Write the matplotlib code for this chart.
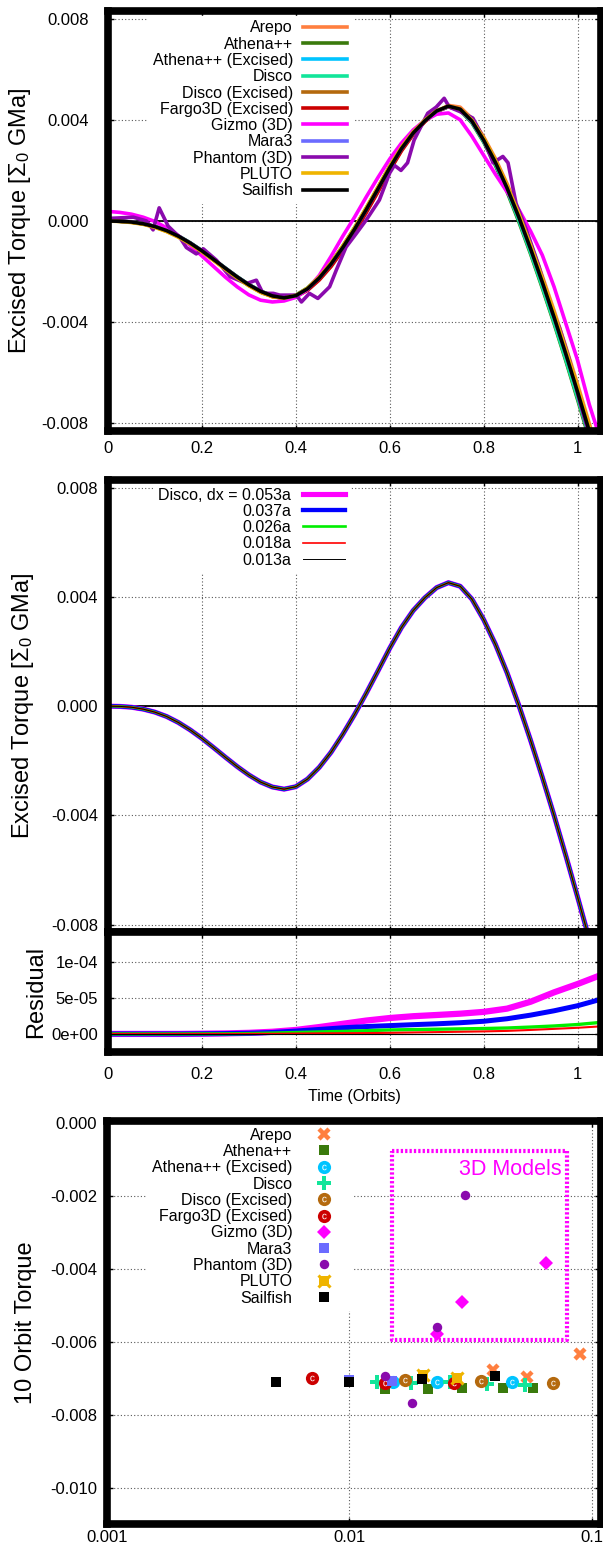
import matplotlib
matplotlib.use("Agg")
import matplotlib.pyplot as plt
from matplotlib import ticker

plt.rcParams['font.family'] = ['Liberation Sans', 'DejaVu Sans']
plt.rcParams['mathtext.fontset'] = 'custom'
plt.rcParams['mathtext.rm'] = 'Liberation Sans'
plt.rcParams['mathtext.it'] = 'Liberation Sans:italic'
plt.rcParams['mathtext.bf'] = 'Liberation Sans:bold'

# ---- panel 1: excised torque for each code (units of 1e-3) ----
time = [0.000, 0.025, 0.050, 0.075, 0.100, 0.125, 0.150, 0.175, 0.200, 0.225,
        0.250, 0.275, 0.300, 0.325, 0.350, 0.375, 0.400, 0.425, 0.450, 0.475,
        0.500, 0.525, 0.550, 0.575, 0.600, 0.625, 0.650, 0.675, 0.700, 0.725,
        0.750, 0.775, 0.800, 0.825, 0.850, 0.875, 0.900, 0.925, 0.950, 0.975,
        1.000, 1.025, 1.050]

arepo = [0.00, -0.01, -0.05, -0.12, -0.24, -0.41, -0.63, -0.90, -1.21, -1.55,
         -1.90, -2.24, -2.55, -2.81, -2.99, -3.05, -2.97, -2.72, -2.31, -1.78,
         -1.14, -0.43, 0.35, 1.17, 2.01, 2.79, 3.43, 3.93, 4.33, 4.57,
         4.50, 4.05, 3.33, 2.47, 1.47, 0.35, -0.88, -2.18, -3.54, -4.97,
         -6.45, -8.00, -9.55]
athena = [0.00, -0.01, -0.04, -0.10, -0.21, -0.37, -0.59, -0.86, -1.17, -1.51,
          -1.86, -2.20, -2.51, -2.77, -2.95, -3.03, -2.93, -2.65, -2.21, -1.65,
          -0.99, -0.27, 0.51, 1.33, 2.16, 2.91, 3.51, 3.98, 4.35, 4.52,
          4.37, 3.88, 3.12, 2.20, 1.15, -0.03, -1.30, -2.65, -4.05, -5.52,
          -7.05, -8.62, -10.2]
athena_exc = [0.00, -0.01, -0.04, -0.11, -0.22, -0.39, -0.61, -0.88, -1.19, -1.53,
              -1.88, -2.22, -2.53, -2.79, -2.97, -3.04, -2.94, -2.66, -2.23, -1.68,
              -1.02, -0.30, 0.48, 1.30, 2.13, 2.88, 3.49, 3.97, 4.34, 4.52,
              4.39, 3.92, 3.17, 2.28, 1.25, 0.08, -1.18, -2.51, -3.90, -5.36,
              -6.87, -8.42, -9.97]
disco = [0.00, -0.01, -0.04, -0.11, -0.22, -0.38, -0.60, -0.87, -1.18, -1.52,
         -1.87, -2.21, -2.52, -2.78, -2.96, -3.04, -2.95, -2.67, -2.24, -1.69,
         -1.03, -0.31, 0.47, 1.29, 2.12, 2.88, 3.50, 3.97, 4.34, 4.52,
         4.39, 3.92, 3.17, 2.27, 1.22, 0.03, -1.25, -2.60, -4.00, -5.47,
         -6.98, -8.53, -10.1]
disco_exc = [0.00, -0.01, -0.05, -0.11, -0.23, -0.40, -0.62, -0.89, -1.20, -1.54,
             -1.89, -2.23, -2.54, -2.80, -2.98, -3.05, -2.97, -2.70, -2.28, -1.74,
             -1.09, -0.38, 0.40, 1.22, 2.06, 2.83, 3.46, 3.95, 4.33, 4.53,
             4.43, 3.99, 3.27, 2.40, 1.39, 0.25, -0.99, -2.30, -3.67, -5.11,
             -6.60, -8.14, -9.70]
fargo = [0.00, -0.01, -0.04, -0.11, -0.23, -0.39, -0.61, -0.88, -1.19, -1.53,
         -1.88, -2.22, -2.54, -2.80, -2.98, -3.06, -2.99, -2.74, -2.33, -1.80,
         -1.16, -0.45, 0.33, 1.15, 1.99, 2.77, 3.42, 3.93, 4.32, 4.52,
         4.41, 3.96, 3.23, 2.35, 1.34, 0.20, -1.04, -2.36, -3.74, -5.19,
         -6.69, -8.24, -9.80]
gizmo = [0.38, 0.34, 0.27, 0.15, -0.02, -0.27, -0.58, -0.96, -1.38, -1.80,
         -2.22, -2.60, -2.92, -3.13, -3.20, -3.16, -3.02, -2.70, -2.15, -1.40,
         -0.60, 0.15, 0.95, 1.72, 2.45, 3.08, 3.60, 3.98, 4.22, 4.27,
         4.00, 3.35, 2.60, 1.85, 1.15, 0.45, -0.40, -1.35, -2.60, -4.05,
         -5.50, -7.25, -8.70]
mara3 = [0.00, -0.01, -0.04, -0.11, -0.22, -0.38, -0.60, -0.87, -1.18, -1.52,
         -1.87, -2.21, -2.52, -2.78, -2.96, -3.04, -2.95, -2.68, -2.25, -1.70,
         -1.05, -0.33, 0.45, 1.27, 2.10, 2.86, 3.48, 3.96, 4.34, 4.52,
         4.40, 3.94, 3.21, 2.33, 1.31, 0.16, -1.09, -2.41, -3.79, -5.24,
         -6.74, -8.29, -9.84]
pluto = [0.00, -0.02, -0.06, -0.13, -0.25, -0.42, -0.64, -0.91, -1.22, -1.56,
         -1.91, -2.25, -2.56, -2.82, -2.99, -3.05, -2.94, -2.65, -2.21, -1.65,
         -0.99, -0.27, 0.52, 1.34, 2.17, 2.92, 3.52, 3.99, 4.36, 4.54,
         4.43, 3.99, 3.28, 2.41, 1.41, 0.28, -0.96, -2.27, -3.64, -5.08,
         -6.57, -8.11, -9.67]
sailfish = [0.00, -0.01, -0.04, -0.11, -0.22, -0.38, -0.60, -0.87, -1.18, -1.52,
            -1.87, -2.21, -2.52, -2.78, -2.96, -3.04, -2.95, -2.68, -2.25, -1.70,
            -1.05, -0.33, 0.45, 1.27, 2.10, 2.86, 3.48, 3.96, 4.35, 4.54,
            4.42, 3.95, 3.20, 2.32, 1.30, 0.15, -1.10, -2.42, -3.80, -5.25,
            -6.75, -8.30, -9.85]

phantom_time = [0.0, 0.054, 0.082, 0.096, 0.109, 0.128, 0.153, 0.167, 0.188, 0.203,
                0.231, 0.260, 0.295, 0.316, 0.330, 0.352, 0.366, 0.401, 0.412, 0.429,
                0.447, 0.472, 0.486, 0.507, 0.529, 0.550, 0.578, 0.600, 0.610, 0.624,
                0.638, 0.652, 0.681, 0.699, 0.716, 0.727, 0.749, 0.777, 0.799, 0.820,
                0.841, 0.852, 0.869, 0.891, 0.918, 0.947, 0.961, 0.983, 1.004, 1.018,
                1.040]
phantom = [0.10, 0.15, 0.00, -0.35, 0.52, -0.20, -0.65, -1.05, -1.30, -1.10,
           -1.55, -2.20, -2.47, -2.34, -2.86, -2.86, -2.93, -2.93, -3.20, -2.86,
           -3.06, -2.60, -1.95, -1.03, -0.49, 0.04, 0.83, 1.90, 2.20, 2.00,
           2.30, 3.20, 4.26, 4.50, 4.85, 4.50, 4.33, 4.07, 3.30, 2.30,
           2.55, 2.30, 0.70, -0.35, -1.80, -3.65, -4.18, -5.50, -7.10, -8.00,
           -9.50]

code_names = ['Arepo', 'Athena++', 'Athena++ (Excised)', 'Disco', 'Disco (Excised)',
              'Fargo3D (Excised)', 'Gizmo (3D)', 'Mara3', 'Phantom (3D)', 'PLUTO', 'Sailfish']
code_colors = ['#ff7f3f', '#3a7a0c', '#00c4ff', '#12e59a', '#b4690e',
               '#cc0000', '#ff00ff', '#6b6bff', '#8a0aad', '#efb400', '#000000']

# ---- panel 2: Disco resolution study ----
res_labels = ['Disco, dx = 0.053a', '0.037a', '0.026a', '0.018a', '0.013a']
res_colors = ['#ff00ff', '#0000ff', '#00ee00', '#ff0000', '#000000']
res_widths = [3.7, 3.1, 1.9, 1.2, 0.7]

res_time = [0.00, 0.05, 0.10, 0.15, 0.20, 0.25, 0.30, 0.35, 0.40, 0.45, 0.50,
            0.55, 0.60, 0.65, 0.70, 0.75, 0.80, 0.85, 0.90, 0.95, 1.00, 1.05]
resid_053 = [0, 0, 0, 0, 0.03, 0.07, 0.15, 0.30, 0.55, 0.95, 1.40,
             1.85, 2.20, 2.45, 2.62, 2.80, 3.05, 3.50, 4.45, 5.75, 6.90, 8.15]
resid_037 = [0, 0, 0, 0, 0.02, 0.05, 0.10, 0.20, 0.40, 0.62, 0.85,
             1.02, 1.15, 1.28, 1.40, 1.55, 1.75, 2.10, 2.60, 3.20, 3.90, 4.80]
resid_026 = [0, 0, 0, 0, 0.01, 0.02, 0.05, 0.12, 0.20, 0.28, 0.35,
             0.45, 0.55, 0.60, 0.65, 0.70, 0.75, 0.82, 0.95, 1.10, 1.30, 1.60]
resid_018 = [0, 0, 0, 0, 0, 0, 0.01, 0.02, 0.05, 0.08, 0.10,
             0.12, 0.15, 0.20, 0.25, 0.30, 0.35, 0.42, 0.55, 0.70, 0.85, 1.05]
resid_013 = [0] * 22
residuals = [resid_053, resid_037, resid_026, resid_018, resid_013]

# ---- panel 3: 10-orbit torque vs resolution ----
dx_arepo = [0.039, 0.054, 0.0895]
tq_arepo = [-0.00678, -0.00696, -0.00634]
dx_athena = [0.0140, 0.0212, 0.0291, 0.0429, 0.0571]
tq_athena = [-0.00730, -0.00730, -0.00728, -0.00728, -0.00726]
dx_athena_exc = [0.0152, 0.0231, 0.0470]
tq_athena_exc = [-0.00711, -0.00712, -0.00711]
dx_disco = [0.013, 0.018, 0.026, 0.037, 0.053]
tq_disco = [-0.00711, -0.00714, -0.00710, -0.00717, -0.00719]
dx_disco_exc = [0.0170, 0.0349, 0.0690]
tq_disco_exc = [-0.00705, -0.00708, -0.00714]
dx_fargo = [0.0070, 0.0140, 0.0269]
tq_fargo = [-0.00700, -0.00714, -0.00714]
dx_gizmo = [0.0231, 0.0291, 0.0648]
tq_gizmo = [-0.00579, -0.00491, -0.00383]
dx_mara3 = [0.0100, 0.0150]
tq_mara3 = [-0.00704, -0.00707]
dx_phantom = [0.0140, 0.0181, 0.0231, 0.0300]
tq_phantom = [-0.00694, -0.00767, -0.00559, -0.00199]
dx_pluto = [0.0201, 0.0279]
tq_pluto = [-0.00691, -0.00699]
dx_sailfish = [0.005, 0.010, 0.020, 0.040]
tq_sailfish = [-0.00710, -0.00710, -0.00703, -0.00693]

box_x = [0.015, 0.0794, 0.0794, 0.015, 0.015]
box_y = [-0.00078, -0.00078, -0.00596, -0.00596, -0.00078]

# ---------------------------------------------------------------
W, H = 603, 1549
fig = plt.figure(figsize=(W / 100, H / 100), dpi=100)


def add_axes(left, right, top, bottom):
    return fig.add_axes([left / W, 1 - bottom / H, (right - left) / W, (bottom - top) / H])


def style(ax, ypad, xpad):
    for s in ax.spines.values():
        s.set_linewidth(5.5)
    ax.grid(True, color='0.35', linestyle=(0, (1, 2)), linewidth=0.8)
    ax.tick_params(direction='in', length=4, width=1, top=True, right=True,
                   labelsize=12)
    ax.tick_params(axis='y', pad=ypad)
    ax.tick_params(axis='x', pad=xpad)


def white_legend(ax, anchor, **kw):
    leg = ax.legend(loc='upper right', bbox_to_anchor=anchor, markerfirst=False,
                    fontsize=11.5, labelspacing=0.08, borderpad=0.3, borderaxespad=0,
                    frameon=True, fancybox=False, edgecolor='white',
                    facecolor='white', framealpha=1, **kw)
    leg.set_zorder(2.4)
    return leg


ylab = r'Excised Torque [$\Sigma_0$ GMa]'

# panel 1
ax1 = add_axes(108, 601, 11, 431)
for name, col, vals in zip(code_names, code_colors,
                           [arepo, athena, athena_exc, disco, disco_exc, fargo,
                            gizmo, mara3, None, pluto, sailfish]):
    if vals is None:
        ax1.plot(phantom_time, [v * 1e-3 for v in phantom], color=col, lw=2.6, label=name)
    else:
        ax1.plot(time, [v * 1e-3 for v in vals], color=col, lw=2.6, label=name)
ax1.axhline(0, color='k', lw=1.3, zorder=1.8)
ax1.set_xlim(0, 1.05)
ax1.set_ylim(-0.0083, 0.0083)
ax1.set_xticks([0, 0.2, 0.4, 0.6, 0.8, 1.0])
ax1.set_yticks([-0.008, -0.004, 0, 0.004, 0.008])
ax1.xaxis.set_major_formatter(ticker.FuncFormatter(lambda v, p: f'{v:g}'))
ax1.yaxis.set_major_formatter(ticker.FormatStrFormatter('%.3f'))
style(ax1, 14, 7.5)
ax1.set_ylabel(ylab, fontsize=17)
ax1.yaxis.set_label_coords(-0.152, 0.5)
white_legend(ax1, (0.494, 0.989), handlelength=2.75, handletextpad=0.62)

# panel 2
ax2 = add_axes(108, 601, 480, 932)
for lbl, col, lw in zip(res_labels, res_colors, res_widths):
    ax2.plot(time, [v * 1e-3 for v in disco], color=col, lw=lw, label=lbl)
ax2.axhline(0, color='k', lw=1.3, zorder=1.8)
ax2.set_xlim(0, 1.05)
ax2.set_ylim(-0.00827, 0.00828)
ax2.set_xticks([0, 0.2, 0.4, 0.6, 0.8, 1.0])
ax2.set_yticks([-0.008, -0.004, 0, 0.004, 0.008])
ax2.yaxis.set_major_formatter(ticker.FormatStrFormatter('%.3f'))
ax2.tick_params(labelbottom=False)
style(ax2, 7, 7)
ax2.set_ylabel(ylab, fontsize=17)
ax2.yaxis.set_label_coords(-0.146, 0.5)
white_legend(ax2, (0.49, 0.994), handlelength=2.6, handletextpad=0.75)

# residual
ax3 = add_axes(108, 601, 932, 1052)
for res, col, lw in zip(residuals, res_colors, [4.5, 3.6, 2.4, 1.5, 0.8]):
    ax3.plot(res_time, [v * 1e-5 for v in res], color=col, lw=lw)
ax3.set_xlim(0, 1.05)
ax3.set_ylim(-2.5e-5, 1.41e-4)
ax3.set_xticks([0, 0.2, 0.4, 0.6, 0.8, 1.0])
ax3.set_yticks([0, 5e-5, 1e-4])
ax3.xaxis.set_major_formatter(ticker.FuncFormatter(lambda v, p: f'{v:g}'))
ax3.yaxis.set_major_formatter(ticker.FormatStrFormatter('%.0e'))
style(ax3, 7, 10.8)
ax3.set_ylabel('Residual', fontsize=17)
ax3.yaxis.set_label_coords(-0.124, 0.5)
ax3.set_xlabel('Time (Orbits)', fontsize=11.5)
ax3.xaxis.set_label_coords(0.5, -0.31)

# panel 3
ax4 = add_axes(107, 601, 1121, 1524)
ax4.set_xscale('log')
c_mark = dict(marker='$\\mathrm{c}$', color='white', ms=4, ls='none', mew=0)
handles = []
handles.append(ax4.plot(dx_arepo, tq_arepo, 'x', color=code_colors[0], ms=7, mew=3.2)[0])
handles.append(ax4.plot(dx_athena, tq_athena, 's', color=code_colors[1], ms=7.3, mew=0)[0])
h1 = ax4.plot(dx_athena_exc, tq_athena_exc, 'o', color=code_colors[2], ms=9.5, mew=0)[0]
h2 = ax4.plot(dx_athena_exc, tq_athena_exc, **c_mark)[0]
handles.append((h1, h2))
handles.append(ax4.plot(dx_disco, tq_disco, 'P', color=code_colors[3], ms=10.5, mew=0)[0])
h1 = ax4.plot(dx_disco_exc, tq_disco_exc, 'o', color=code_colors[4], ms=9.5, mew=0)[0]
h2 = ax4.plot(dx_disco_exc, tq_disco_exc, **c_mark)[0]
handles.append((h1, h2))
h1 = ax4.plot(dx_fargo, tq_fargo, 'o', color=code_colors[5], ms=9.5, mew=0)[0]
h2 = ax4.plot(dx_fargo, tq_fargo, **c_mark)[0]
handles.append((h1, h2))
handles.append(ax4.plot(dx_gizmo, tq_gizmo, 'D', color=code_colors[6], ms=7.2, mew=0)[0])
handles.append(ax4.plot(dx_mara3, tq_mara3, 's', color=code_colors[7], ms=7.3, mew=0)[0])
handles.append(ax4.plot(dx_phantom, tq_phantom, 'o', color=code_colors[8], ms=6.8, mew=0)[0])
h1 = ax4.plot(dx_pluto, tq_pluto, 's', color=code_colors[9], ms=7.3, mew=0)[0]
h2 = ax4.plot(dx_pluto, tq_pluto, 'x', color=code_colors[9], ms=9, mew=2.2)[0]
handles.append((h1, h2))
handles.append(ax4.plot(dx_sailfish, tq_sailfish, 's', color=code_colors[10], ms=7.3, mew=0)[0])

ax4.plot(box_x, box_y, color='#ff00ff', lw=3, ls=(0, (0.55, 0.5)), zorder=1.9)
ax4.text(0.0752, -0.00127, '3D Models', color='#ff00ff', fontsize=15.5,
         ha='right', va='center')
ax4.set_xlim(0.001, 0.1092)
ax4.set_ylim(-0.011, 0.00005)
ax4.set_xticks([0.001, 0.01, 0.1])
ax4.xaxis.set_minor_locator(ticker.NullLocator())
ax4.xaxis.set_major_formatter(ticker.FuncFormatter(lambda v, p: f'{v:g}'))
ax4.set_yticks([-0.010, -0.008, -0.006, -0.004, -0.002, 0.0])
ax4.yaxis.set_major_formatter(ticker.FormatStrFormatter('%.3f'))
style(ax4, 7, 4.5)
ax4.set_ylabel('10 Orbit Torque', fontsize=17)
ax4.yaxis.set_label_coords(-0.142, 0.5)
leg4 = ax4.legend(handles, code_names, loc='upper right', bbox_to_anchor=(0.495, 0.995),
                  markerfirst=False, fontsize=11.5, handlelength=2.8, handletextpad=0.6,
                  labelspacing=0.08, borderpad=0.3, borderaxespad=0,
                  frameon=True, fancybox=False, edgecolor='white', facecolor='white',
                  framealpha=1)
leg4.set_zorder(2.4)

fig.savefig('out.png', dpi=100)
